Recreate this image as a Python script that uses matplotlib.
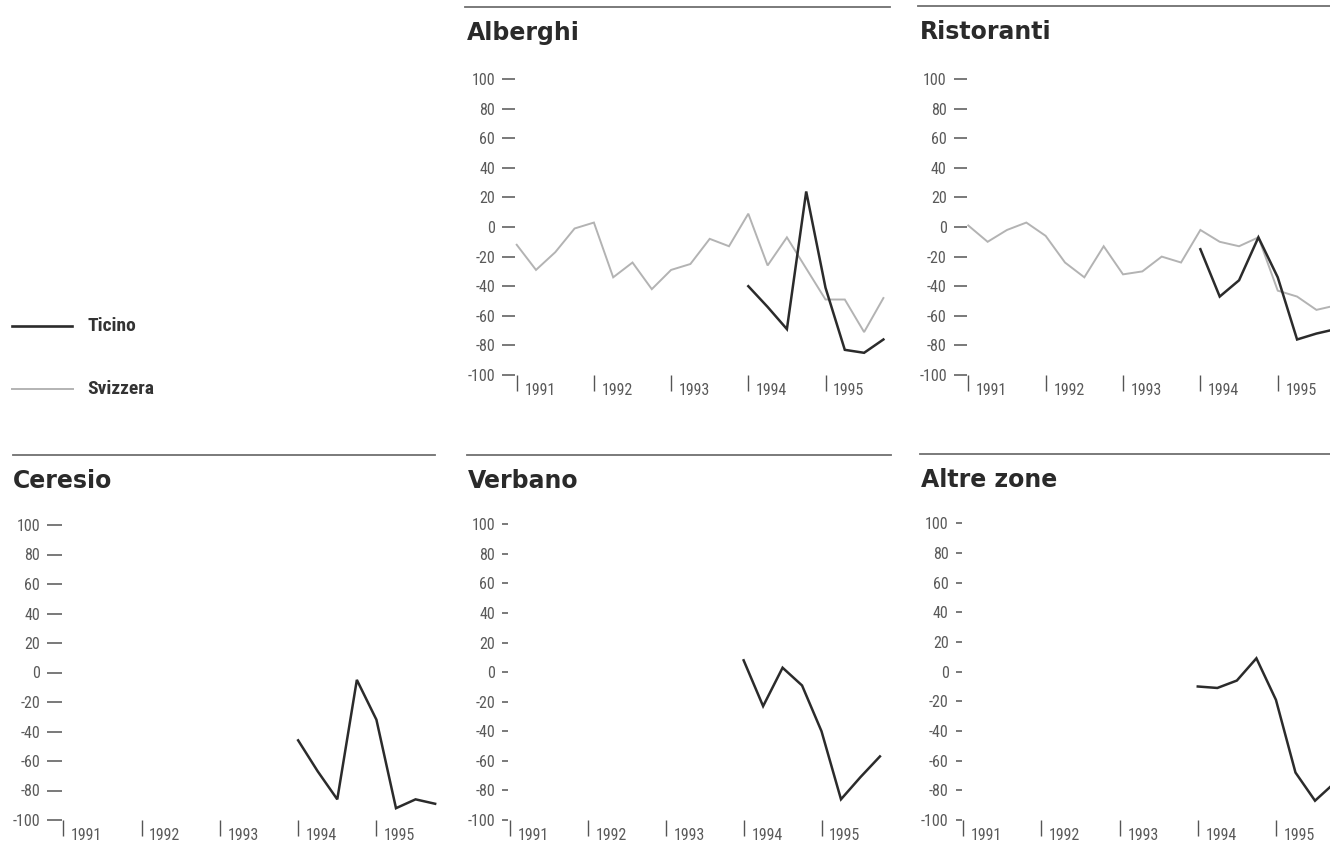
import matplotlib
matplotlib.use("Agg")
import matplotlib.pyplot as plt
from matplotlib.lines import Line2D
from matplotlib import font_manager

plt.rcParams['axes.unicode_minus'] = False

W, H = 1330, 843

# ---- data (quarterly, 1991 Q1 .. 1995 Q4) ----
years = ['1991', '1992', '1993', '1994', '1995']
year_pos = [0, 4, 8, 12, 16]
y_ticks = [100, 80, 60, 40, 20, 0, -20, -40, -60, -80, -100]
y_ticklabels = ['100', '80', '60', '40', '20', '0', '-20', '-40', '-60', '-80', '-100']

quarters = list(range(20))
ticino_quarters = list(range(12, 20))

alberghi_svizzera = [-12, -29, -17, -1, 3, -34, -24, -42, -29, -25,
                     -8, -13, 9, -26, -7, -28, -49, -49, -71, -48]
alberghi_ticino = [-40, -54, -69, 24, -41, -83, -85, -76]

ristoranti_svizzera = [1, -10, -2, 3, -6, -24, -34, -13, -32, -30,
                       -20, -24, -2, -10, -13, -7, -43, -47, -56, -53]
ristoranti_ticino = [-15, -47, -36, -7, -34, -76, -72, -69]

ceresio_ticino = [-46, -67, -86, -5, -32, -92, -86, -89]
verbano_ticino = [8, -23, 3, -9, -40, -86, -71, -57]
altre_ticino = [-10, -11, -6, 9, -19, -68, -87, -75]

DARK = '#2b2b2b'
LIGHT = '#b3b3b3'
TXT = '#5a5a5a'
RULE = '#6f6f6f'

_avail = {f.name for f in font_manager.fontManager.ttflist}
NARROW = None
for cand in ['Liberation Sans Narrow', 'Roboto Condensed', 'DejaVu Sans Condensed',
             'Liberation Sans', 'DejaVu Sans']:
    if cand in _avail:
        NARROW = cand
        break
NARROW_FAMILY = [NARROW, 'DejaVu Sans']
is_narrow = NARROW in ('Liberation Sans Narrow', 'Roboto Condensed')
TICK_FS = 11.5 if is_narrow else 10
LEG_FS = 14 if is_narrow else 12.5

fig = plt.figure(figsize=(W / 100, H / 100), dpi=100)
fig.patch.set_facecolor('white')


def fx(px):
    return px / W


def fy(py):
    return 1 - py / H


def rule(x0, x1, y):
    fig.add_artist(Line2D([fx(x0), fx(x1)], [fy(y), fy(y)], color=RULE,
                          lw=1.3, transform=fig.transFigure))


def panel(title, k0, sp, top, bottom, title_xy, rule_span, rule_y,
          ytick_len, swiss=None, ticino=None):
    x_lo, x_hi = -0.08, 19.5
    left = k0 + x_lo * sp
    width = (x_hi - x_lo) * sp
    ax = fig.add_axes([fx(left), fy(bottom), width / W, (bottom - top) / H])
    ax.set_xlim(x_lo, x_hi)
    ax.set_ylim(-100, 100)
    ax.patch.set_alpha(0)
    for s in ax.spines.values():
        s.set_visible(False)
    ax.set_yticks(y_ticks)
    ax.set_yticklabels(y_ticklabels, family=NARROW_FAMILY, fontsize=TICK_FS, color=TXT)
    ax.tick_params(axis='y', direction='out', length=ytick_len, width=1.1,
                   color='#555555', pad=5)
    ax.set_xticks(year_pos)
    ax.set_xticklabels([''] * len(year_pos))
    ax.tick_params(axis='x', direction='out', length=11.5, width=1.0,
                   color='#555555')
    for yr, k in zip(years, year_pos):
        ax.annotate(yr, (k, -100), xytext=(5.5, -14.5), textcoords='offset points',
                    ha='left', va='baseline', family=NARROW_FAMILY, fontsize=TICK_FS,
                    color=TXT, annotation_clip=False)
    if swiss is not None:
        ax.plot(quarters, swiss, color=LIGHT, lw=1.4, clip_on=False,
                solid_joinstyle='miter')
    if ticino is not None:
        ax.plot(ticino_quarters, ticino, color=DARK, lw=1.8, clip_on=False,
                solid_joinstyle='miter')
    fig.text(fx(title_xy[0]), fy(title_xy[1]), title, fontsize=17,
             fontweight='bold', color='#2a2a2a', ha='left', va='baseline',
             family='DejaVu Sans')
    rule(rule_span[0], rule_span[1], rule_y)
    return ax


panel('Alberghi', 516.7, 19.3, 79, 375, (466.5, 40), (465, 890), 6.7, 9.4,
      swiss=alberghi_svizzera, ticino=alberghi_ticino)
panel('Ristoranti', 968.3, 19.34, 79, 375, (920, 39), (918, 1330), 6.3, 9.4,
      swiss=ristoranti_svizzera, ticino=ristoranti_ticino)
panel('Ceresio', 63.3, 19.57, 525, 820, (13.3, 488), (13, 435), 455, 10.5,
      ticino=ceresio_ticino)
panel('Verbano', 510, 19.47, 524.3, 820, (468, 488), (467, 891), 455, 4.5,
      ticino=verbano_ticino)
panel('Altre zone', 963.3, 19.54, 523.3, 820, (920.7, 487), (920, 1330), 454, 4.5,
      ticino=altre_ticino)

# legend
fig.add_artist(Line2D([fx(12), fx(72)], [fy(326), fy(326)], color=DARK, lw=1.9,
                      transform=fig.transFigure))
fig.add_artist(Line2D([fx(12), fx(73)], [fy(389), fy(389)], color=LIGHT, lw=1.4,
                      transform=fig.transFigure))
fig.text(fx(87), fy(326), 'Ticino', family=NARROW_FAMILY, fontweight='bold',
         fontsize=LEG_FS, color='#333333', ha='left', va='center')
fig.text(fx(87), fy(389), 'Svizzera', family=NARROW_FAMILY, fontweight='bold',
         fontsize=LEG_FS, color='#333333', ha='left', va='center')

fig.savefig('out.png', dpi=100, facecolor='white')
